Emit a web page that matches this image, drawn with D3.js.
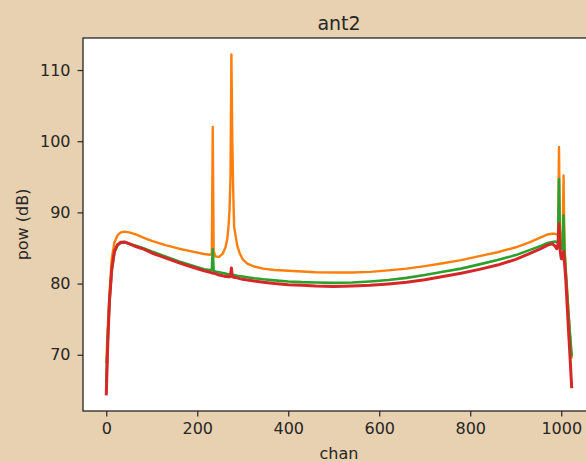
<!DOCTYPE html>
<html>
<head>
<meta charset="utf-8">
<script src="https://cdn.jsdelivr.net/npm/d3@7"></script>
<style>
  body { margin: 0; background: #e7d1b0; }
  svg { display: block; font-family: "DejaVu Sans", sans-serif; }
</style>
</head>
<body>
<script>
// channels
const chan = [0, 3, 7, 12, 18, 25, 32, 40, 50,
  65, 80, 100, 130, 160, 190, 215, 228, 232, 234,
  236, 240, 248, 256, 262, 266, 269, 271, 273, 275,
  277, 279, 281, 284, 288, 293, 300, 310, 325, 345,
  370, 400, 430, 460, 500, 540, 580, 620, 660, 700,
  740, 780, 820, 860, 900, 930, 955, 970, 980, 986,
  990, 993, 995, 997, 1000, 1003, 1005, 1007, 1010, 1015,
  1019, 1023];

const powOrange = [68.8, 73.5, 78.5, 83.5, 85.8, 86.8, 87.2, 87.3, 87.2,
  86.9, 86.5, 86.0, 85.4, 84.9, 84.5, 84.15, 84.05, 84.2, 102.0,
  84.6, 83.8, 83.75, 84.2, 85.1, 86.3, 88.3, 90.5, 95.0, 112.2,
  100.0, 93.0, 88.0, 86.8, 85.3, 84.3, 83.4, 82.8, 82.4, 82.1,
  81.9, 81.8, 81.7, 81.6, 81.55, 81.55, 81.65, 81.85, 82.1, 82.45,
  82.85, 83.3, 83.85, 84.4, 85.1, 85.8, 86.5, 86.9, 87.0, 87.0,
  86.9, 87.0, 99.2, 87.5, 86.0, 86.0, 95.2, 85.5, 82.0, 77.0,
  73.0, 69.5];

const powGreen = [66.0, 72.0, 77.5, 81.8, 84.4, 85.4, 85.7, 85.8, 85.6,
  85.3, 85.0, 84.5, 83.8, 83.1, 82.5, 82.0, 81.9, 81.9, 84.8,
  81.8, 81.7, 81.6, 81.5, 81.4, 81.35, 81.3, 81.3, 81.3, 81.3,
  81.25, 81.2, 81.2, 81.15, 81.1, 81.05, 81.0, 80.9, 80.75, 80.6,
  80.45, 80.3, 80.2, 80.15, 80.1, 80.15, 80.3, 80.5, 80.8, 81.2,
  81.65, 82.1, 82.7, 83.3, 84.0, 84.7, 85.3, 85.7, 85.85, 85.9,
  85.8, 85.9, 94.7, 86.0, 85.0, 84.8, 89.6, 84.5, 81.5, 76.5,
  73.0, 69.8];

const powRed = [64.3, 71.0, 77.5, 82.0, 84.6, 85.5, 85.8, 85.85, 85.6,
  85.2, 84.9, 84.3, 83.6, 82.9, 82.3, 81.8, 81.6, 81.5, 81.5,
  81.45, 81.4, 81.2, 81.1, 81.0, 81.0, 80.95, 80.95, 81.0, 82.2,
  81.0, 80.9, 80.9, 80.85, 80.8, 80.7, 80.6, 80.5, 80.35, 80.2,
  80.0, 79.85, 79.75, 79.65, 79.6, 79.65, 79.75, 79.95, 80.2, 80.55,
  81.0, 81.45, 82.0, 82.6, 83.4, 84.2, 84.9, 85.4, 85.6, 85.3,
  84.9, 85.5, 88.4, 85.0, 83.5, 83.5, 84.5, 83.0, 80.5, 74.5,
  70.0, 65.3];

const xTicks = [0, 200, 400, 600, 800, 1000];
const yTicks = [70, 80, 90, 100, 110];

const width = 586, height = 462;
const mLeft = 83, mTop = 38, mRight = 595, mBottom = 411;

const svg = d3.select("body")
  .append("svg")
  .attr("width", width)
  .attr("height", height);

// matplotlib style 5% margins round the data
const x = d3.scaleLinear().domain([-51.15, 1074.15]).range([mLeft, mRight]);
const y = d3.scaleLinear().domain([62.1, 114.5]).range([mBottom, mTop]);

svg.append("rect")
  .attr("x", mLeft).attr("y", mTop)
  .attr("width", mRight - mLeft).attr("height", mBottom - mTop)
  .attr("fill", "#fff");

svg.append("clipPath").attr("id", "clip")
  .append("rect")
  .attr("x", mLeft).attr("y", mTop)
  .attr("width", mRight - mLeft).attr("height", mBottom - mTop);

const series = [
  {vals: powOrange, color: "#ff7f0e", w: 2.4},
  {vals: powGreen, color: "#2ca02c", w: 2.6},
  {vals: powRed, color: "#d62728", w: 3.0}
];

const line = d3.line()
  .x((d, i) => x(chan[i]))
  .y(d => y(d));

svg.append("g")
  .attr("clip-path", "url(#clip)")
  .selectAll("path")
  .data(series)
  .join("path")
  .attr("fill", "none")
  .attr("stroke", d => d.color)
  .attr("stroke-width", d => d.w)
  .attr("stroke-linejoin", "round")
  .attr("d", d => line(d.vals));

// axes
const xAxis = svg.append("g")
  .attr("transform", `translate(0,${mBottom})`)
  .call(d3.axisBottom(x).tickValues(xTicks).tickFormat(d3.format("d"))
    .tickSize(5.5).tickPadding(6));

const yAxis = svg.append("g")
  .attr("transform", `translate(${mLeft},0)`)
  .call(d3.axisLeft(y).tickValues(yTicks).tickFormat(d3.format("d"))
    .tickSize(5.5).tickPadding(7));

[xAxis, yAxis].forEach(g => {
  g.select(".domain").remove();
  g.selectAll("line").attr("stroke", "#262626").attr("stroke-width", 1.2);
  g.selectAll("text")
    .attr("fill", "#262626")
    .style("font-size", "16px")
    .style("font-family", "DejaVu Sans, sans-serif");
});

// spines
svg.append("rect")
  .attr("x", mLeft).attr("y", mTop)
  .attr("width", mRight - mLeft).attr("height", mBottom - mTop)
  .attr("fill", "none")
  .attr("stroke", "#262626")
  .attr("stroke-width", 1.3);

svg.append("text")
  .attr("x", (mLeft + mRight) / 2)
  .attr("y", 30)
  .attr("text-anchor", "middle")
  .attr("fill", "#262626")
  .style("font-size", "19px")
  .text("ant2");

svg.append("text")
  .attr("x", (mLeft + mRight) / 2)
  .attr("y", 459)
  .attr("text-anchor", "middle")
  .attr("fill", "#262626")
  .style("font-size", "16px")
  .text("chan");

svg.append("text")
  .attr("transform", `translate(28,${(mTop + mBottom) / 2}) rotate(-90)`)
  .attr("text-anchor", "middle")
  .attr("fill", "#262626")
  .style("font-size", "16px")
  .text("pow (dB)");
</script>
</body>
</html>
